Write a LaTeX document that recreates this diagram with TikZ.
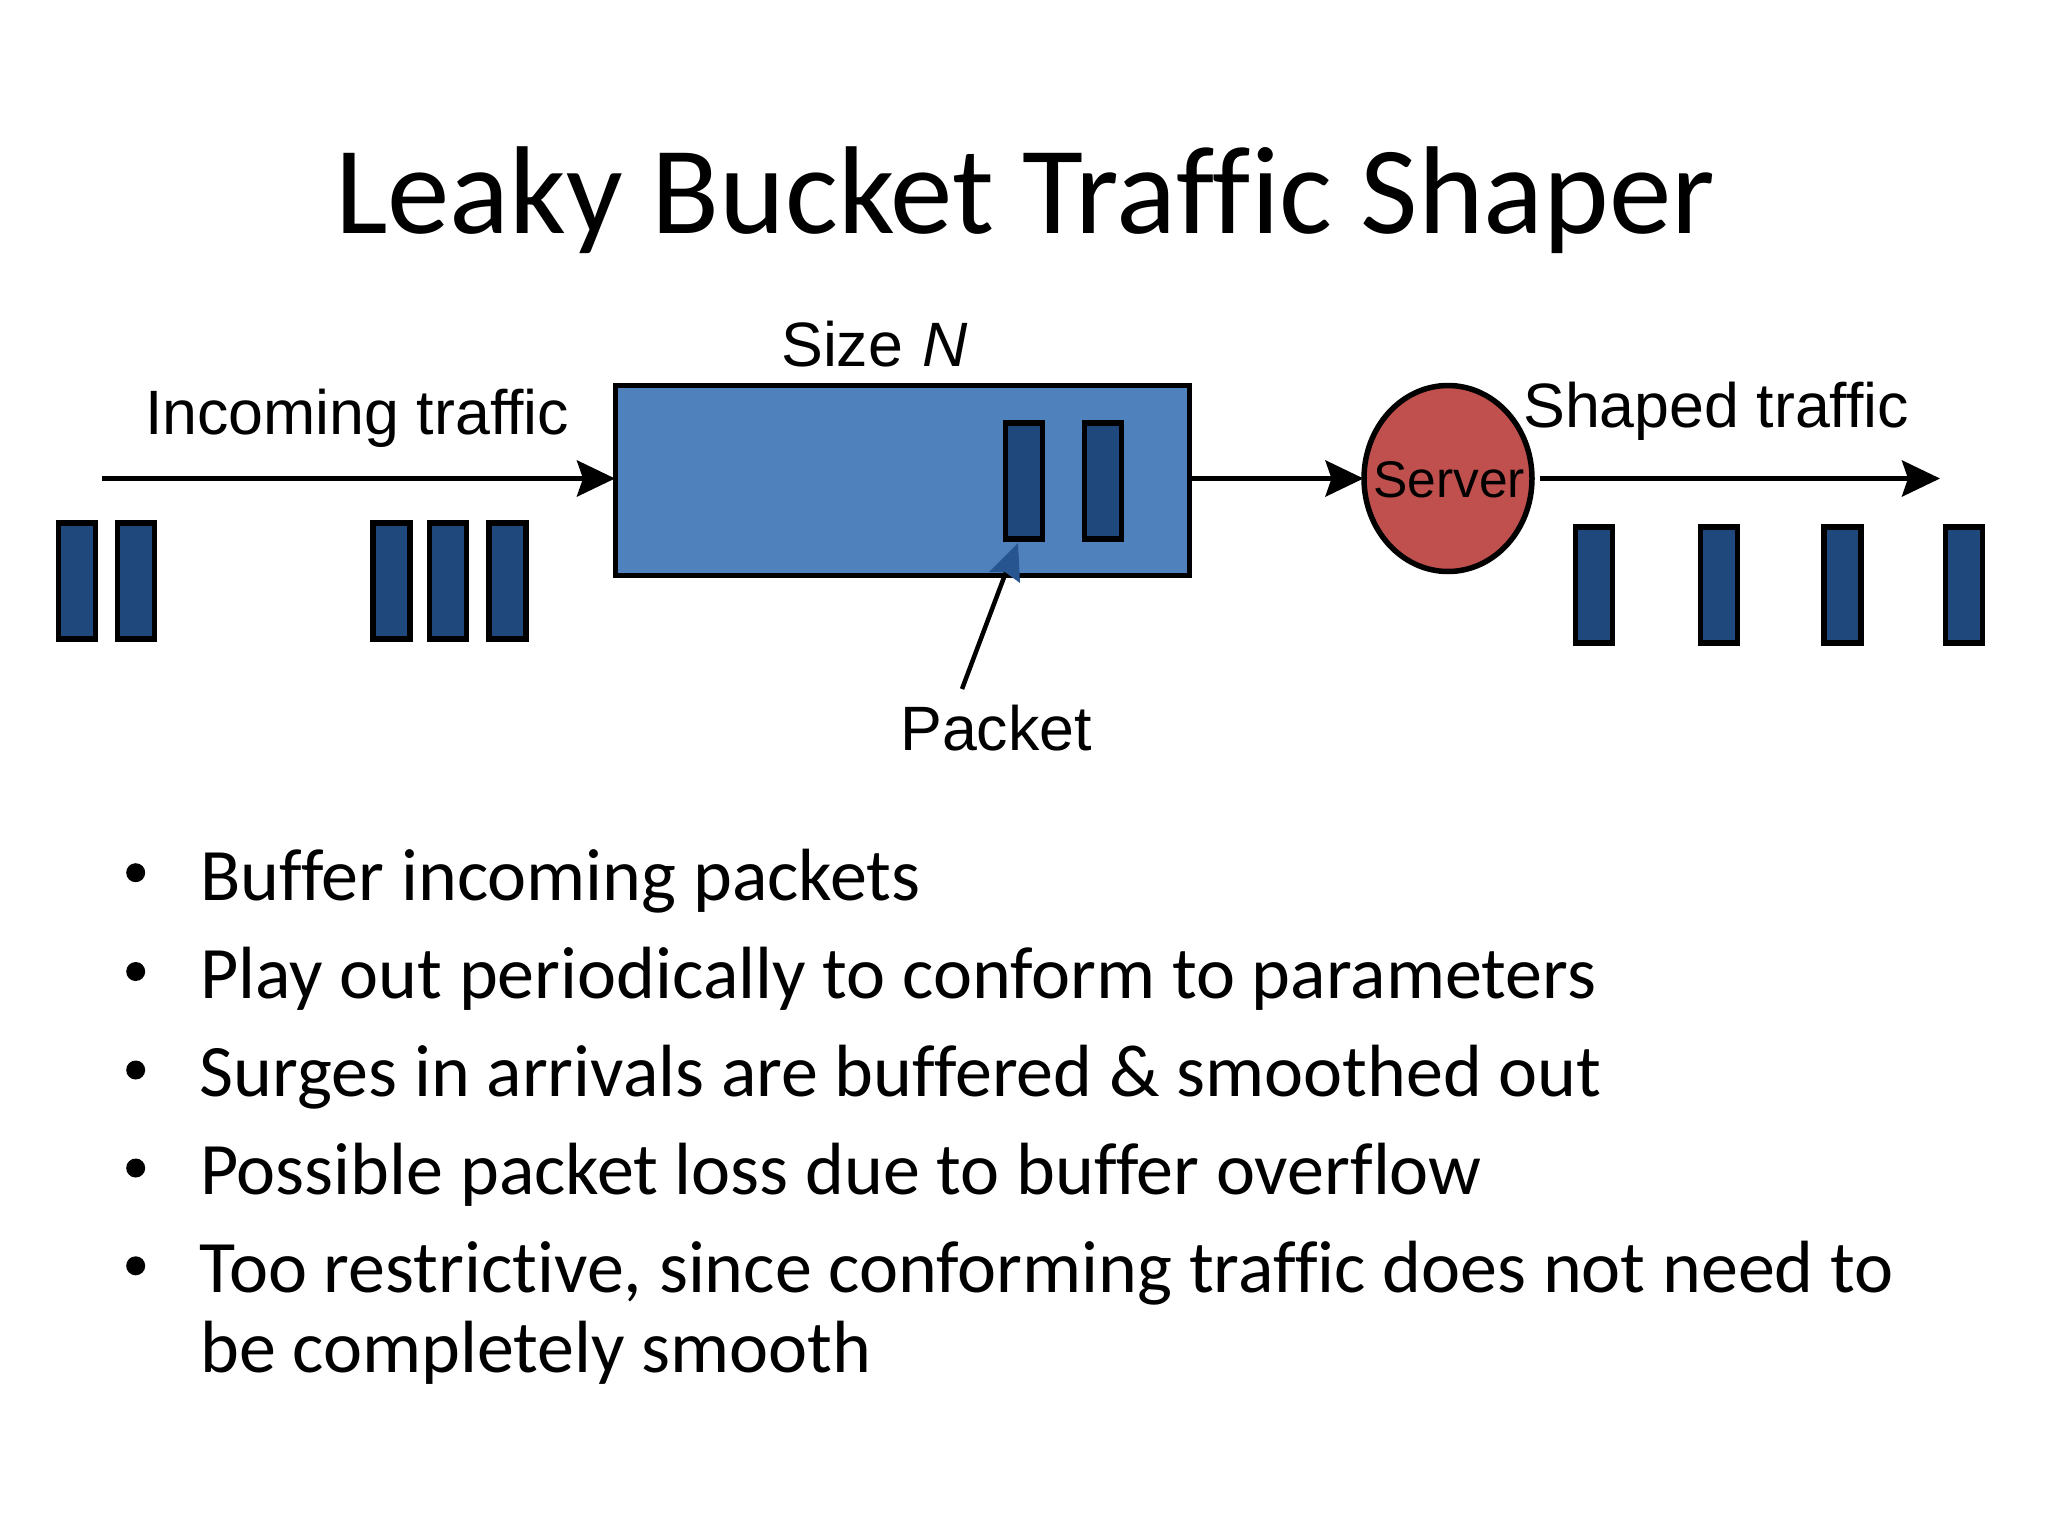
\documentclass[tikz,border=0pt]{standalone}
\usepackage{fontspec}
\setmainfont[Ligatures=NoCommon]{Carlito}
\newfontfamily\arialf[Ligatures=NoCommon]{Liberation Sans}
\usetikzlibrary{arrows.meta,shapes.geometric}
\definecolor{bucketblue}{HTML}{4F81BD}
\definecolor{pktblue}{HTML}{1F497D}
\definecolor{srvred}{HTML}{C0504D}
\definecolor{headblue}{HTML}{27558F}
\tikzset{
  x=1pt,y=-1pt,
  pkt/.style={draw=black,fill=pktblue,line width=5.5pt,minimum width=37pt,minimum height=116pt,inner sep=0pt,outer sep=0pt},
  flow/.style={draw=black,line width=5pt,shorten >=-2pt,-{Stealth[length=38pt,width=36pt,inset=6pt,fill=black]}},
  lab/.style={font=\arialf\fontsize{62.7}{63}\selectfont,anchor=base west,inner sep=0pt,text=black},
  ttl/.style={font=\fontsize{125}{125}\selectfont,anchor=base west,inner sep=0pt,text=black},
  bul/.style={font=\fontsize{74}{74}\selectfont,anchor=base west,inner sep=0pt,text=black}
}
\begin{document}
\begin{tikzpicture}
\useasboundingbox (0,0) rectangle (2048,1536);
\fill[white] (0,0) rectangle (2048,1536);
\node[ttl] (title) at (335,233) {Leaky Bucket Traffic Shaper};
% bucket
\node[draw=black,fill=bucketblue,line width=5.5pt,minimum width=574pt,minimum height=190pt,inner sep=0pt,outer sep=2.5pt] (bucket) at (902.5,480.5) {};
\node[pkt] (b1) at (1024,481) {};
\node[pkt] (b2) at (1103,481) {};
% left packets
\node[pkt] (l1) at (77,581) {};
\node[pkt] (l2) at (136,581) {};
\node[pkt] (l3) at (391.5,581) {};
\node[pkt] (l4) at (448,581) {};
\node[pkt] (l5) at (507.5,581) {};
% right packets
\node[pkt] (r1) at (1594,585) {};
\node[pkt] (r2) at (1719,585) {};
\node[pkt] (r3) at (1842.5,585) {};
\node[pkt] (r4) at (1964,585) {};
% server
\node[draw=black,fill=srvred,line width=5.5pt,ellipse,minimum width=168pt,minimum height=186pt,inner sep=0pt,outer sep=2.5pt] (server) at (1448,478.5) {};
\node[font=\arialf\fontsize{51.5}{52}\selectfont,anchor=base,inner sep=0pt] (srvtxt) at (1449,497) {Server};
% labels
\node[lab] (inc) at (145,434) {Incoming traffic};
\node[lab] (size) at (781,366) {Size \kern1.5pt\textit{N}};
\node[lab] (pkttxt) at (900,750) {Packet};
\node[lab] (shp) at (1523,427) {Shaped traffic};
% connectors
\coordinate (instart) at (102,478.5);
\coordinate (outend) at (1938,478.5);
\coordinate (ptail) at (962,689);
\draw[flow] (instart) -- (bucket.west |- instart);
\draw[flow] (bucket.east |- instart) -- (server.west |- instart);
\draw[flow] (server.east |- instart) ++(5,0) -- (outend);
\draw[draw=black,line width=4.5pt] (ptail) -- (1006,572);
\fill[headblue] (1018,543) -- (989,572) -- (1005,572) -- (1020,583) -- cycle;
% bullets
\foreach \yy in {872.7,971.5,1070,1168,1265.8}
  \fill[black] (135.7,\yy) circle (9.5pt);
\node[bul] (t1) at (200,900.6) {Buffer incoming packets};
\node[bul] (t2) at (200,998.7) {Play out periodically to conform to parameters};
\node[bul] (t3) at (199.5,1096.8) {Surges in arrivals are buffered \& smoothed out};
\node[bul] (t4) at (200,1194.3) {Possible packet loss due to buffer overflow};
\node[bul] (t5) at (199.5,1292) {Too restrictive, since conforming traffic does not need to};
\node[bul] (t6) at (200,1372.7) {be completely smooth};
\end{tikzpicture}
\end{document}
